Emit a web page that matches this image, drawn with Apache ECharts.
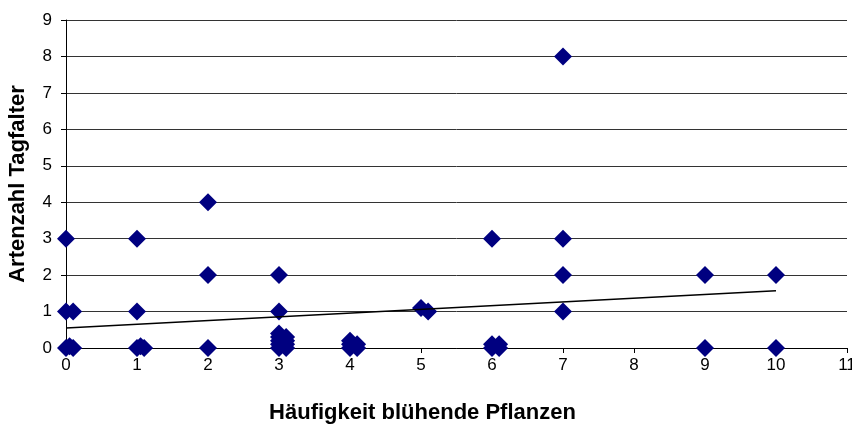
<!DOCTYPE html>
<html>
<head>
<meta charset="utf-8">
<script src="https://cdn.jsdelivr.net/npm/echarts@6/dist/echarts.min.js"></script>
<style>
  html, body { margin: 0; padding: 0; background: #fff; }
  #chart { width: 852px; height: 426px; }
</style>
</head>
<body>
<div id="chart"></div>
<script>
// Blooming-plant frequency vs. number of butterfly species per plot
const bluehX = [0, 0, 0.1, 0, 0.05, 0.1,
                1, 1, 1, 1.05, 1.1,
                2, 2, 2,
                3, 3, 3, 3, 3, 3, 3, 3.1, 3.1, 3.1, 3.1,
                4, 4, 4, 4.1, 4.1,
                5, 5.1,
                6, 6, 6, 6.1, 6.1,
                7, 7, 7, 7,
                9, 9,
                10, 10];
const tagfalter = [3, 1, 1, 0, 0.05, 0,
                   3, 1, 0, 0.05, 0,
                   4, 2, 0,
                   2, 1, 0.4, 0.3, 0.2, 0.1, 0, 0.3, 0.2, 0.1, 0,
                   0.2, 0.1, 0, 0.1, 0,
                   1.1, 1,
                   3, 0.1, 0, 0.1, 0,
                   8, 3, 2, 1,
                   2, 0,
                   2, 0];
// linear trend line end points
const trendX = [0, 10];
const trendY = [0.55, 1.57];

const xTitle = 'Häufigkeit blühende Pflanzen';
const yTitle = 'Artenzahl Tagfalter';

const chart = echarts.init(document.getElementById('chart'), null, { renderer: 'canvas' });
const font = 'Liberation Sans, Arial, sans-serif';

chart.setOption({
  animation: false,
  grid: { left: 66, right: 5, top: 20, bottom: 78, containLabel: false, outerBoundsMode: 'none' },
  xAxis: {
    type: 'value', min: 0, max: 11, interval: 1,
    name: xTitle, nameLocation: 'middle', nameGap: 54,
    nameTextStyle: { fontFamily: font, fontSize: 22, fontWeight: 'bold', color: '#000', padding: [0, 68, 0, 0] },
    axisLine: { show: true, lineStyle: { color: '#000', width: 1 } },
    axisTick: { show: true, inside: false, length: 5, lineStyle: { color: '#000' } },
    axisLabel: { fontFamily: font, fontSize: 17, color: '#000', margin: 9 },
    splitLine: { show: false }
  },
  yAxis: {
    type: 'value', min: 0, max: 9, interval: 1,
    name: yTitle, nameLocation: 'middle', nameGap: 37,
    nameTextStyle: { fontFamily: font, fontSize: 22, fontWeight: 'bold', color: '#000' },
    axisLine: { show: true, onZero: false, lineStyle: { color: '#000', width: 1 } },
    axisTick: { show: true, inside: false, length: 5, lineStyle: { color: '#000' } },
    axisLabel: { fontFamily: font, fontSize: 17, color: '#000', margin: 14 },
    splitLine: { show: true, lineStyle: { color: '#333', width: 1 } }
  },
  series: [
    {
      type: 'scatter',
      data: bluehX.map((x, i) => [x, tagfalter[i]]),
      symbol: 'diamond',
      symbolSize: 18,
      itemStyle: { color: '#000080', opacity: 1 },
      z: 3
    },
    {
      type: 'line',
      data: trendX.map((x, i) => [x, trendY[i]]),
      symbol: 'none',
      lineStyle: { color: '#000', width: 1.5 },
      z: 4
    }
  ]
});
</script>
</body>
</html>
